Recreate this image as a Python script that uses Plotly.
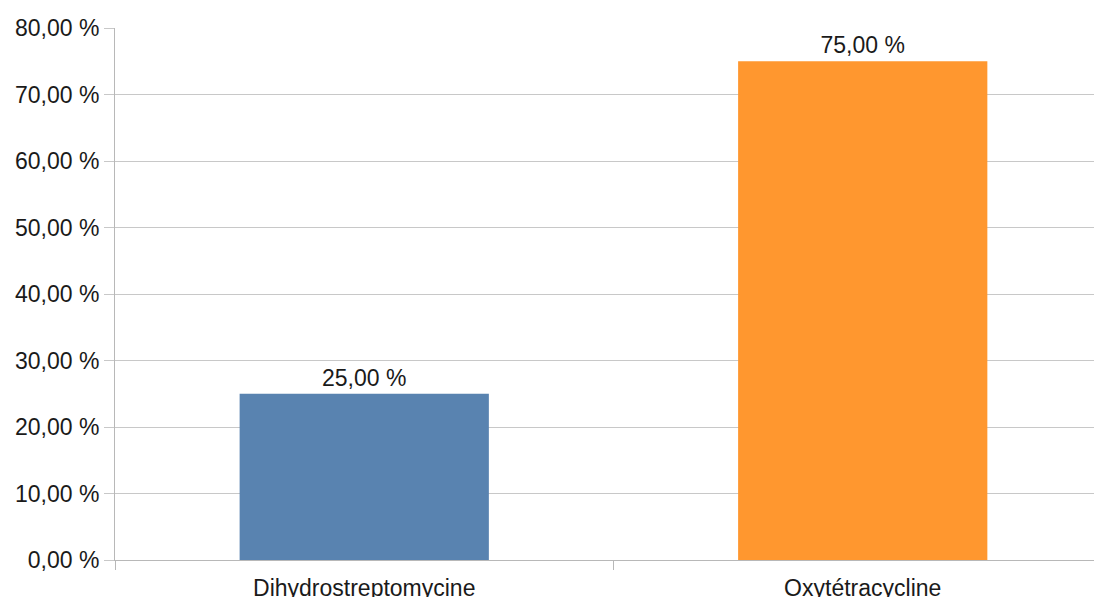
import plotly.graph_objects as go

categories = ["Dihydrostreptomycine", "Oxytétracycline"]
values = [25.0, 75.0]
colors = ["#5983b0", "#ff972f"]
y_ticks = [0, 10, 20, 30, 40, 50, 60, 70, 80]
y_tick_labels = [f"{v:.2f} %".replace(".", ",") for v in y_ticks]

FONT = "Liberation Sans, Arial, sans-serif"
TXT = "#1a1a1a"

fig = go.Figure(
    go.Bar(
        x=categories,
        y=values,
        marker=dict(color=colors, line=dict(width=0)),
        texttemplate="%{y:.2f} %",
        textposition="outside",
        textfont=dict(family=FONT, size=23, color=TXT),
        cliponaxis=False,
        width=0.5,
    )
)

# the page body has an 8px default margin, so the figure is sized to fit the window
fig.update_layout(
    width=1094,
    height=589,
    margin=dict(l=107, r=0, t=20, b=37, autoexpand=False),
    paper_bgcolor="white",
    plot_bgcolor="white",
    separators=",.",
    showlegend=False,
    font=dict(family=FONT, size=23, color=TXT),
)

fig.update_yaxes(
    range=[0, 80],
    tickmode="array",
    tickvals=y_ticks,
    ticktext=y_tick_labels,
    automargin=False,
    showgrid=True,
    gridcolor="#c8c8c8",
    gridwidth=1,
    zeroline=False,
    showline=True,
    linecolor="#b8b8b8",
    linewidth=1,
    ticks="outside",
    ticklen=10,
    tickcolor="#c8c8c8",
    tickfont=dict(family=FONT, size=23, color=TXT),
    ticklabelstandoff=0,
)

fig.update_xaxes(
    type="category",
    range=[-0.5, 1.48],
    automargin=False,
    tickson="boundaries",
    ticks="outside",
    ticklen=9,
    tickcolor="#b8b8b8",
    showline=True,
    linecolor="#b8b8b8",
    linewidth=1,
    showgrid=False,
    tickfont=dict(family=FONT, size=23, color=TXT),
    ticklabelstandoff=7,
)

fig.write_html("out.html")
